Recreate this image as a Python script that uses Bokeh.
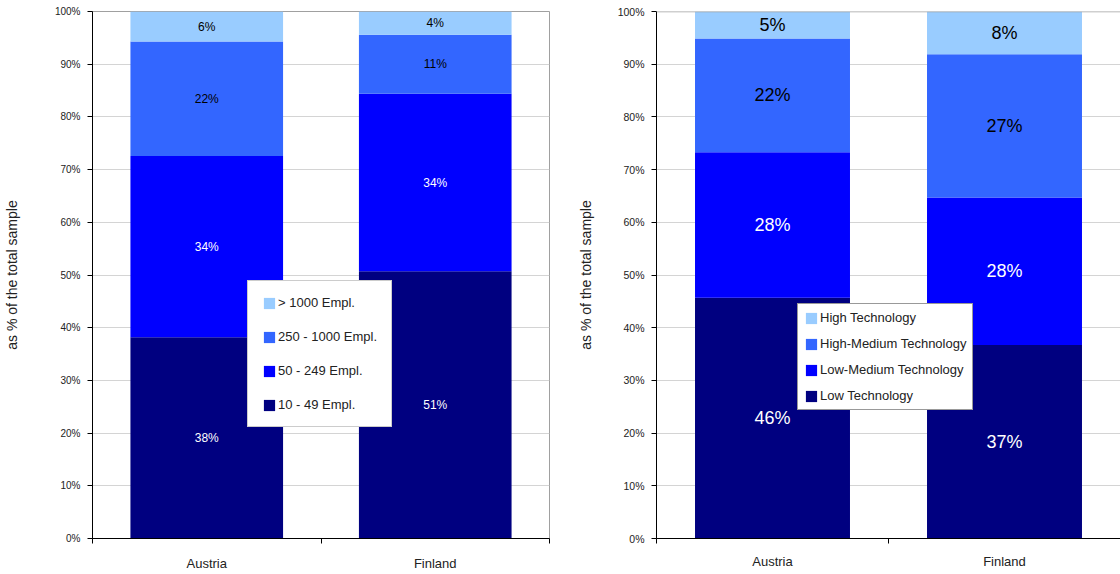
from bokeh.plotting import figure
from bokeh.models import (Range1d, FixedTicker, Legend, LegendItem, ColumnDataSource,
                          Span, PrintfTickFormatter)
from bokeh.layouts import row
from bokeh.embed import file_html
from bokeh.resources import INLINE
from bokeh.core.properties import value

# ---------------- data ----------------
countries = ["Austria", "Finland"]

size_classes = ["10 - 49 Empl.", "50 - 249 Empl.", "250 - 1000 Empl.", "> 1000 Empl."]
size_10_49 = [38.2, 50.7]
size_50_249 = [34.4, 33.7]
size_250_1000 = [21.7, 11.2]
size_1000_plus = [5.7, 4.4]

tech_classes = ["Low Technology", "Low-Medium Technology", "High-Medium Technology", "High Technology"]
tech_low = [45.7, 36.7]
tech_low_medium = [27.6, 28.0]
tech_high_medium = [21.6, 27.2]
tech_high = [5.1, 8.1]

y_ticks = [0, 10, 20, 30, 40, 50, 60, 70, 80, 90, 100]
y_label = "as % of the total sample"

colors = ["#000080", "#0000FF", "#3366FF", "#99CCFF"]
label_colors = ["#ffffff", "#ffffff", "#000000", "#000000"]

FONT = "Liberation Sans"


def make_chart(classes, series, width, x_end, border_left, border_right, border_top,
               border_bottom, label_size, tick_size, axis_label_standoff, bottom_standoff,
               legend_loc, legend_cfg, outline):
    p = figure(width=width, height=574, output_backend="svg", toolbar_location=None,
               x_range=Range1d(0, x_end), y_range=Range1d(0, 100),
               min_border_left=border_left, min_border_right=border_right,
               min_border_top=border_top, min_border_bottom=border_bottom)
    p.background_fill_color = "#ffffff"
    p.border_fill_color = "#ffffff"
    p.outline_line_color = "#a0a0a0" if outline else None
    if not outline:
        p.add_layout(Span(location=100, dimension="width", line_color="#a0a0a0", line_width=1.5))

    xs = [i + 0.5 for i in range(len(countries))]
    bottoms = [0.0] * len(countries)
    renderers = []
    for k, (cls, vals) in enumerate(zip(classes, series)):
        tops = [b + v for b, v in zip(bottoms, vals)]
        src = ColumnDataSource(dict(x=xs, bottom=bottoms, top=tops,
                                    mid=[(b + t) / 2 for b, t in zip(bottoms, tops)],
                                    lab=[f"{round(v)}%" for v in vals]))
        r = p.vbar(x="x", bottom="bottom", top="top", width=0.668, source=src,
                   fill_color=colors[k], line_color=None)
        p.text(x="x", y="mid", text="lab", source=src, text_align="center",
               text_baseline="middle", text_color=label_colors[k],
               text_font=value(FONT), text_font_size=label_size)
        renderers.append(r)
        bottoms = tops

    # x axis
    xa = p.xaxis[0]
    xa.ticker = FixedTicker(ticks=xs, minor_ticks=[float(i) for i in range(len(countries) + 1)])
    xa.major_label_overrides = {x: c for x, c in zip(xs, countries)}
    xa.major_tick_out = 0
    xa.major_tick_in = 0
    xa.minor_tick_out = 5
    xa.minor_tick_in = 0
    xa.minor_tick_line_color = "#000000"
    xa.axis_line_color = "#000000"
    xa.major_label_text_font = FONT
    xa.major_label_text_font_size = "13px"
    xa.major_label_text_color = "#222222"
    xa.major_label_standoff = bottom_standoff

    # y axis
    ya = p.yaxis[0]
    ya.ticker = FixedTicker(ticks=y_ticks)
    ya.formatter = PrintfTickFormatter(format="%d%%")
    ya.major_tick_out = 5
    ya.major_tick_in = 0
    ya.minor_tick_out = 0
    ya.minor_tick_in = 0
    ya.axis_line_color = "#000000"
    ya.major_tick_line_color = "#000000"
    ya.major_label_text_font = FONT
    ya.major_label_text_font_size = tick_size
    ya.major_label_text_color = "#222222"
    ya.major_label_standoff = 7
    ya.axis_label = y_label
    ya.axis_label_text_font = FONT
    ya.axis_label_text_font_size = "14px"
    ya.axis_label_text_font_style = "normal"
    ya.axis_label_text_color = "#222222"
    ya.axis_label_standoff = axis_label_standoff

    p.xgrid.grid_line_color = None
    p.ygrid.grid_line_color = "#d4d4d4"
    p.ygrid.ticker = FixedTicker(ticks=y_ticks[1:-1])

    items = [LegendItem(label=c, renderers=[r]) for c, r in zip(classes, renderers)][::-1]
    legend = Legend(items=items, location=legend_loc, orientation="vertical",
                    label_text_font=FONT, label_text_font_size="13px",
                    label_text_color="#222222",
                    glyph_width=14, glyph_height=14, label_height=14,
                    background_fill_color="#ffffff", background_fill_alpha=1.0,
                    border_line_width=1, **legend_cfg)
    p.add_layout(legend, "center")
    return p


p1 = make_chart(size_classes, [size_10_49, size_50_249, size_250_1000, size_1000_plus],
                width=570, x_end=2.0, border_left=92, border_right=21, border_top=11,
                border_bottom=36, label_size="12px", tick_size="10px",
                axis_label_standoff=32, bottom_standoff=12, legend_loc=(155, 111),
                legend_cfg=dict(padding=14, spacing=19, label_standoff=2,
                                border_line_color="#999999", margin=0),
                outline=True)

p2 = make_chart(tech_classes, [tech_low, tech_low_medium, tech_high_medium, tech_high],
                width=550, x_end=2.0, border_left=86, border_right=0, border_top=10,
                border_bottom=32, label_size="18px", tick_size="10.5px",
                axis_label_standoff=21, bottom_standoff=10, legend_loc=(141, 128),
                legend_cfg=dict(padding=6, spacing=11, label_standoff=2,
                                border_line_color="#333333", margin=0),
                outline=False)

layout = row(p1, p2)
open("out.html", "w").write(file_html(layout, INLINE))
